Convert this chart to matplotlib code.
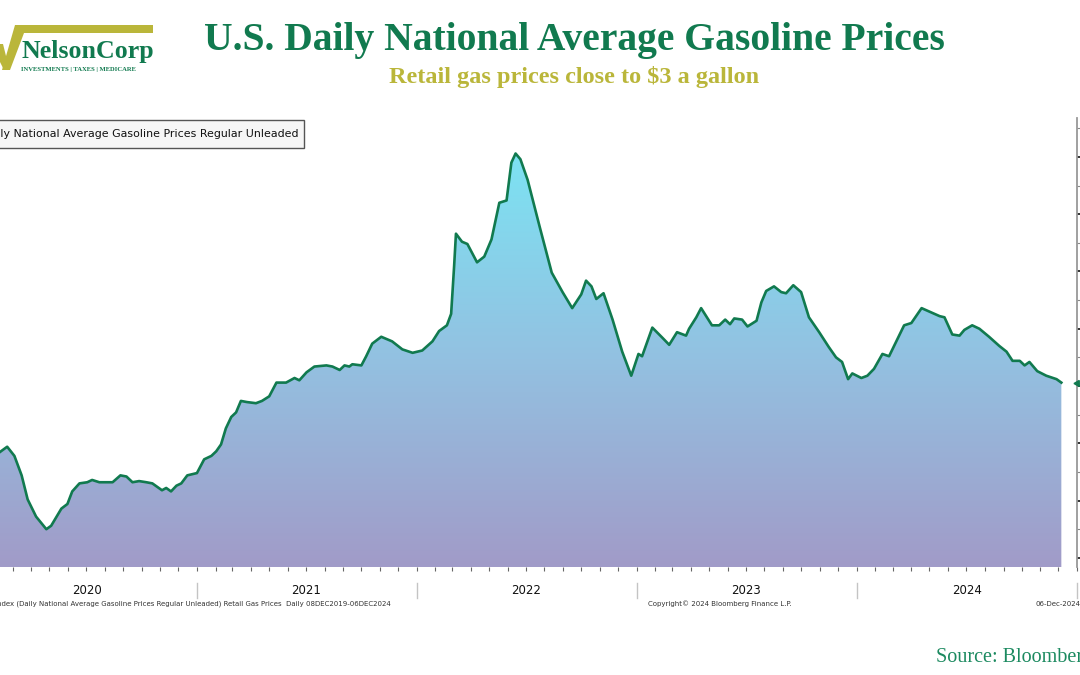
import numpy as np
import pandas as pd
import matplotlib
matplotlib.use("Agg")
import matplotlib.pyplot as plt
import matplotlib.dates as mdates
from matplotlib.colors import LinearSegmentedColormap
from matplotlib.patches import Polygon, Rectangle
from matplotlib.transforms import blended_transform_factory

# daily national average gasoline price, regular unleaded ($/gal)
dates = [
    "2019-12-08", "2020-01-01", "2020-01-20", "2020-02-08", "2020-02-21", "2020-03-04", "2020-03-16",
    "2020-03-26", "2020-04-09", "2020-04-26", "2020-05-04", "2020-05-13", "2020-05-21", "2020-05-31",
    "2020-06-08", "2020-06-20", "2020-07-03", "2020-07-11", "2020-07-23", "2020-08-04", "2020-08-14",
    "2020-08-27", "2020-09-06", "2020-09-16", "2020-09-27", "2020-10-09", "2020-10-19", "2020-11-04",
    "2020-11-11", "2020-11-19", "2020-11-28", "2020-12-06", "2020-12-16", "2020-12-24",
    "2021-01-01", "2021-01-13", "2021-01-25", "2021-02-02", "2021-02-10", "2021-02-18", "2021-02-27",
    "2021-03-07", "2021-03-15", "2021-03-25", "2021-04-09", "2021-04-19", "2021-05-01", "2021-05-13",
    "2021-05-29", "2021-06-12", "2021-06-20", "2021-07-02", "2021-07-15", "2021-08-04", "2021-08-14",
    "2021-08-26", "2021-09-03", "2021-09-11", "2021-09-16", "2021-10-01", "2021-10-09", "2021-10-19",
    "2021-11-03", "2021-11-21", "2021-12-08", "2021-12-25",
    "2022-01-10", "2022-01-27", "2022-02-07", "2022-02-20", "2022-02-27", "2022-03-04", "2022-03-07",
    "2022-03-17", "2022-03-26", "2022-04-11", "2022-04-23", "2022-05-05", "2022-05-18", "2022-05-30",
    "2022-06-07", "2022-06-14", "2022-06-22", "2022-07-04", "2022-07-24", "2022-08-13", "2022-08-31",
    "2022-09-16", "2022-10-01", "2022-10-09", "2022-10-18", "2022-10-26", "2022-11-07", "2022-11-22",
    "2022-12-08", "2022-12-23",
    "2023-01-04", "2023-01-10", "2023-01-27", "2023-02-13", "2023-02-24", "2023-03-09", "2023-03-24",
    "2023-03-29", "2023-04-10", "2023-04-18", "2023-05-06", "2023-05-18", "2023-05-28", "2023-06-05",
    "2023-06-12", "2023-06-25", "2023-07-04", "2023-07-19", "2023-07-27", "2023-08-04", "2023-08-17",
    "2023-08-29", "2023-09-06", "2023-09-18", "2023-10-01", "2023-10-14", "2023-10-31", "2023-11-16",
    "2023-11-28", "2023-12-08", "2023-12-18", "2023-12-25",
    "2024-01-09", "2024-01-19", "2024-01-30", "2024-02-13", "2024-02-24", "2024-03-07", "2024-03-20",
    "2024-04-01", "2024-04-18", "2024-05-01", "2024-05-18", "2024-05-26", "2024-06-08", "2024-06-20",
    "2024-06-28", "2024-07-11", "2024-07-23", "2024-08-08", "2024-08-25", "2024-09-06", "2024-09-16",
    "2024-09-28", "2024-10-06", "2024-10-14", "2024-10-27", "2024-11-11", "2024-11-28", "2024-12-06",
]
prices = [
    2.58, 2.57, 2.52, 2.42, 2.47, 2.39, 2.22,
    2.01, 1.86, 1.75, 1.78, 1.86, 1.93, 1.97,
    2.08, 2.15, 2.16, 2.18, 2.16, 2.16, 2.16,
    2.22, 2.21, 2.16, 2.17, 2.16, 2.15, 2.09,
    2.11, 2.08, 2.13, 2.15, 2.22, 2.23,
    2.24, 2.36, 2.39, 2.43, 2.49, 2.63, 2.73,
    2.77, 2.87, 2.86, 2.85, 2.87, 2.91, 3.03,
    3.03, 3.07, 3.05, 3.12, 3.17, 3.18, 3.17,
    3.14, 3.18, 3.17, 3.19, 3.18, 3.26, 3.37,
    3.43, 3.39, 3.32, 3.29,
    3.31, 3.39, 3.48, 3.53, 3.63, 4.05, 4.33,
    4.26, 4.24, 4.08, 4.13, 4.28, 4.60, 4.62,
    4.95, 5.03, 4.98, 4.80, 4.39, 3.99, 3.82,
    3.68, 3.80, 3.92, 3.87, 3.76, 3.81, 3.58,
    3.30, 3.09,
    3.28, 3.26, 3.51, 3.42, 3.36, 3.47, 3.44,
    3.50, 3.60, 3.68, 3.53, 3.53, 3.58, 3.54,
    3.59, 3.58, 3.52, 3.57, 3.73, 3.83, 3.87,
    3.82, 3.81, 3.88, 3.82, 3.60, 3.47, 3.34,
    3.25, 3.21, 3.06, 3.11,
    3.07, 3.09, 3.15, 3.28, 3.26, 3.39, 3.53,
    3.55, 3.68, 3.65, 3.61, 3.60, 3.45, 3.44,
    3.49, 3.53, 3.50, 3.43, 3.35, 3.30, 3.22,
    3.22, 3.18, 3.21, 3.13, 3.09, 3.06, 3.03,
]
years = [2020, 2021, 2022, 2023, 2024]

title = "U.S. Daily National Average Gasoline Prices"
subtitle = "Retail gas prices close to $3 a gallon"
legend_label = "Daily National Average Gasoline Prices Regular Unleaded"
footnote = "Index (Daily National Average Gasoline Prices Regular Unleaded) Retail Gas Prices  Daily 08DEC2019-06DEC2024"
copyright_txt = "Copyright\u00a9 2024 Bloomberg Finance L.P."
last_date_txt = "06-Dec-2024"
source_txt = "Source: Bloomberg"

GREEN = "#117a4f"
OLIVE = "#bab63a"
W, H = 1080, 675


def fx(x):
    return x / W


def fy(y):
    return 1 - y / H


x = mdates.date2num(pd.to_datetime(dates))
y = np.array(prices)
y0 = 1.42
y1 = 5.34

fig = plt.figure(figsize=(10.8, 6.75), dpi=100)
# axes deliberately wider than the canvas so the left edge and right labels are cut like the screenshot
ax = fig.add_axes([fx(-38), fy(567), 1115 / W, 449 / H])

xmin = mdates.date2num(pd.Timestamp("2019-12-08"))
xmax = mdates.date2num(pd.Timestamp("2025-01-01"))

# gradient fill under the line
poly = ax.fill_between(x, y, y0, color="none", lw=0)
cmap = LinearSegmentedColormap.from_list("gas", ["#a19bc8", "#93c1e1", "#7ce3f3"])
grad = np.linspace(0, 1, 256).reshape(-1, 1)
im = ax.imshow(grad, extent=[xmin, xmax, y0, 5.05], origin="lower", aspect="auto",
               cmap=cmap, zorder=1)
im.set_clip_path(poly.get_paths()[0], transform=ax.transData)
ax.plot(x, y, color=GREEN, lw=1.9, zorder=3, solid_joinstyle="round")

ax.set_xlim(xmin, xmax)
ax.set_ylim(y0, y1)

# right-hand price axis, labels fall outside the crop
ax.yaxis.tick_right()
ax.set_yticks(np.arange(1.5, 5.01, 0.5))
ax.set_yticks(np.arange(1.75, 5.3, 0.5), minor=True)
ax.tick_params(axis="y", which="major", direction="out", length=4, width=1.3, color="#222",
               labelright=False)
ax.tick_params(axis="y", which="minor", direction="out", length=3, width=0.8, color="#888",
               labelright=False)
ax.xaxis.set_major_locator(mdates.MonthLocator())
ax.tick_params(axis="x", which="major", direction="out", length=3, width=0.8, color="#666",
               labelbottom=False)
for s in ["left", "top", "bottom"]:
    ax.spines[s].set_visible(False)
ax.spines["right"].set_color("#999999")
ax.spines["right"].set_linewidth(1.3)

# last value tag on the axis
ax.plot([xmax], [y[-1]], marker=(3, 0, 90), color=GREEN, ms=5, clip_on=False, zorder=4)

# year labels and separators under the axis
tr = blended_transform_factory(ax.transData, fig.transFigure)
for yr in years:
    mid = mdates.date2num(pd.Timestamp(f"{yr}-07-02"))
    ax.text(mid, fy(591), str(yr), transform=tr, ha="center", va="center",
            fontsize=8.5, color="#111", clip_on=False)
for yr in years[1:] + [2025]:
    b = mdates.date2num(pd.Timestamp(f"{yr}-01-01"))
    ax.plot([b, b], [fy(583), fy(598)], transform=tr, color="#c4c4c4", lw=1, clip_on=False)

fig.text(fx(391), fy(604), footnote, ha="right", va="center", fontsize=5, color="#333")
fig.text(fx(648), fy(604), copyright_txt, ha="left", va="center", fontsize=5, color="#333")
fig.text(fx(1035), fy(604), last_date_txt, ha="left", va="center", fontsize=5, color="#333")

# legend box, cut at the left edge
fig.patches.append(Rectangle((fx(-20), fy(148)), fx(324), 28 / H, transform=fig.transFigure,
                             facecolor="#f6f6f6", edgecolor="#555", lw=1, zorder=5))
fig.text(fx(298), fy(134), legend_label, ha="right", va="center", fontsize=7.9,
         color="#111", zorder=6)

# headings
fig.text(fx(574), fy(50), title, ha="center", va="baseline", fontsize=28.5, color=GREEN,
         family="Liberation Serif", weight="bold")
fig.text(fx(574), fy(83), subtitle, ha="center", va="baseline", fontsize=17.5, color=OLIVE,
         family="Liberation Serif", weight="bold")
fig.text(fx(936), fy(662), source_txt, ha="left", va="baseline", fontsize=14.5, color="#1c8a60",
         family="Liberation Serif")

# NelsonCorp logo
logo = [(15, 25), (153, 25), (153, 33), (24, 33), (10, 70), (2, 70)]
fig.patches.append(Polygon([(fx(a), fy(b)) for a, b in logo], closed=True,
                           transform=fig.transFigure, facecolor=OLIVE, edgecolor="none"))
arm = [(0, 44), (3, 44), (7, 60), (4, 70), (0, 62)]
fig.patches.append(Polygon([(fx(a), fy(b)) for a, b in arm], closed=True,
                           transform=fig.transFigure, facecolor=OLIVE, edgecolor="none"))
fig.text(fx(21), fy(58), "NelsonCorp", ha="left", va="baseline", fontsize=18.6, color=GREEN,
         family="Liberation Serif", weight="bold")
fig.text(fx(21), fy(71), "INVESTMENTS | TAXES | MEDICARE", ha="left", va="baseline",
         fontsize=4.8, color=GREEN, family="Liberation Serif", weight="bold")

fig.savefig("out.png", dpi=100)
